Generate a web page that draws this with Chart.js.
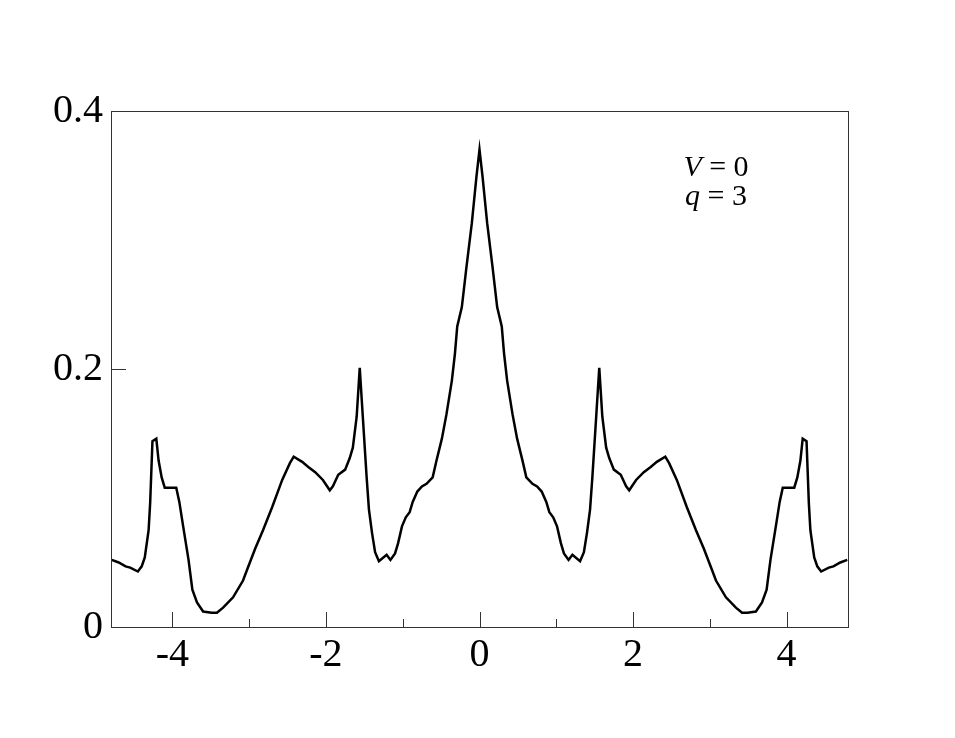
<!DOCTYPE html>
<html>
<head>
<meta charset="utf-8">
<script src="https://cdn.jsdelivr.net/npm/chart.js@4/dist/chart.umd.min.js"></script>
<style>
  html, body { margin: 0; padding: 0; background: #fff; }
  #wrap { width: 955px; height: 738px; position: relative; }
</style>
</head>
<body>
<div id="wrap"><canvas id="chart1"></canvas></div>
<script>
/* ── 데이터 ── */
const xVals = [
  -4.79, -4.70, -4.61, -4.55, -4.45, -4.40, -4.36, -4.31, -4.29, -4.26,
  -4.21, -4.18, -4.14, -4.10, -4.03, -3.95, -3.91, -3.86, -3.79, -3.74,
  -3.68, -3.60, -3.49, -3.42, -3.34, -3.21, -3.08, -3.03, -2.92, -2.82,
  -2.70, -2.57, -2.47, -2.42, -2.31, -2.23, -2.14, -2.04, -1.95, -1.91,
  -1.84, -1.75, -1.69, -1.65, -1.60, -1.56, -1.52, -1.47, -1.44, -1.40,
  -1.36, -1.31, -1.21, -1.16, -1.10, -1.06, -1.01, -0.96, -0.91, -0.87,
  -0.81, -0.75, -0.69, -0.61, -0.56, -0.49, -0.43, -0.36, -0.32, -0.29,
  -0.23, -0.17, -0.10, -0.04, 0.00,
  0.04, 0.10, 0.17, 0.23, 0.29, 0.32, 0.36, 0.43, 0.49, 0.56,
  0.61, 0.69, 0.75, 0.81, 0.87, 0.91, 0.96, 1.01, 1.06, 1.10,
  1.16, 1.21, 1.31, 1.36, 1.40, 1.44, 1.47, 1.52, 1.56, 1.60,
  1.65, 1.69, 1.75, 1.84, 1.91, 1.95, 2.04, 2.14, 2.23, 2.31,
  2.42, 2.47, 2.57, 2.70, 2.82, 2.92, 3.03, 3.08, 3.21, 3.34,
  3.42, 3.49, 3.60, 3.68, 3.74, 3.79, 3.86, 3.91, 3.95, 4.03,
  4.10, 4.14, 4.18, 4.21, 4.26, 4.29, 4.31, 4.36, 4.40, 4.45,
  4.55, 4.61, 4.70, 4.79
];
const yVals = [
  0.052, 0.050, 0.047, 0.046, 0.043, 0.047, 0.054, 0.075, 0.096, 0.144,
  0.146, 0.129, 0.116, 0.108, 0.108, 0.108, 0.097, 0.078, 0.052, 0.029,
  0.019, 0.012, 0.011, 0.011, 0.015, 0.023, 0.036, 0.044, 0.061, 0.075,
  0.093, 0.114, 0.127, 0.132, 0.128, 0.124, 0.120, 0.114, 0.106, 0.109,
  0.118, 0.122, 0.131, 0.139, 0.163, 0.201, 0.163, 0.116, 0.091, 0.073,
  0.058, 0.051, 0.056, 0.052, 0.057, 0.065, 0.078, 0.085, 0.089, 0.097,
  0.105, 0.109, 0.111, 0.116, 0.129, 0.146, 0.165, 0.191, 0.212, 0.233,
  0.248, 0.279, 0.313, 0.349, 0.370,
  0.349, 0.313, 0.279, 0.248, 0.233, 0.212, 0.191, 0.165, 0.146, 0.129,
  0.116, 0.111, 0.109, 0.105, 0.097, 0.089, 0.085, 0.078, 0.065, 0.057,
  0.052, 0.056, 0.051, 0.058, 0.073, 0.091, 0.116, 0.163, 0.201, 0.163,
  0.139, 0.131, 0.122, 0.118, 0.109, 0.106, 0.114, 0.120, 0.124, 0.128,
  0.132, 0.127, 0.114, 0.093, 0.075, 0.061, 0.044, 0.036, 0.023, 0.015,
  0.011, 0.011, 0.012, 0.019, 0.029, 0.052, 0.078, 0.097, 0.108, 0.108,
  0.108, 0.116, 0.129, 0.146, 0.144, 0.096, 0.075, 0.054, 0.047, 0.043,
  0.046, 0.047, 0.050, 0.052
];

/* 눈금 */
const xMajor = [-4, -2, 0, 2, 4];
const xMinor = [-3, -1, 1, 3];
const yMajor = [0, 0.2, 0.4];
const noteLines = [['V', ' = 0'], ['q', ' = 3']];

const FONT = '"Liberation Serif", "DejaVu Serif", serif';
const FRAME = '#333';

/* ── 프레임 + 안쪽 눈금 + 주석 ── */
const framePlugin = {
  id: 'frame',
  afterDraw(chart){
    const { ctx, chartArea: a, scales: { x, y } } = chart;
    ctx.save();
    ctx.strokeStyle = FRAME;
    ctx.lineWidth = 1;
    ctx.strokeRect(a.left + 0.5, a.top + 0.5, a.right - a.left, a.bottom - a.top);

    ctx.beginPath();
    xMajor.forEach(v => {
      const px = Math.round(x.getPixelForValue(v)) + 0.5;
      ctx.moveTo(px, a.bottom); ctx.lineTo(px, a.bottom - 15);
    });
    xMinor.forEach(v => {
      const px = Math.round(x.getPixelForValue(v)) + 0.5;
      ctx.moveTo(px, a.bottom); ctx.lineTo(px, a.bottom - 8);
    });
    yMajor.forEach(v => {
      const py = Math.round(y.getPixelForValue(v)) + 0.5;
      ctx.moveTo(a.left, py); ctx.lineTo(a.left + 15, py);
    });
    ctx.stroke();

    // V = 0 / q = 3
    ctx.fillStyle = '#000';
    ctx.textBaseline = 'alphabetic';
    const cx = 716, base = [176, 205];
    noteLines.forEach((ln, i) => {
      ctx.font = 'italic 30px ' + FONT;
      const w1 = ctx.measureText(ln[0]).width;
      ctx.font = '30px ' + FONT;
      const w2 = ctx.measureText(ln[1]).width;
      let sx = cx - (w1 + w2) / 2;
      ctx.font = 'italic 30px ' + FONT;
      ctx.fillText(ln[0], sx, base[i]);
      ctx.font = '30px ' + FONT;
      ctx.fillText(ln[1], sx + w1, base[i]);
    });
    ctx.restore();
  }
};

new Chart(document.getElementById('chart1'), {
  type: 'scatter',
  data: {
    datasets: [{
      data: xVals.map((v, i) => ({ x: v, y: yVals[i] })),
      showLine: true,
      borderColor: '#000',
      borderWidth: 2.5,
      pointRadius: 0,
      tension: 0
    }]
  },
  options: {
    responsive: true,
    maintainAspectRatio: false,
    animation: false,
    layout: { padding: { left: 0, right: 107, top: 111, bottom: 0 } },
    plugins: { legend: { display: false }, tooltip: { enabled: false } },
    scales: {
      x: {
        type: 'linear', min: -4.8, max: 4.8,
        grid: { display: false, drawTicks: false },
        border: { display: false },
        afterFit(s){ s.height = 111; },
        afterBuildTicks(s){ s.ticks = xMajor.map(v => ({ value: v })); },
        ticks: {
          color: '#000', padding: 4,
          font: { family: FONT, size: 40 },
          callback: v => String(v)
        }
      },
      y: {
        min: 0, max: 0.4,
        grid: { display: false, drawTicks: false },
        border: { display: false },
        afterFit(s){ s.width = 111; },
        afterBuildTicks(s){ s.ticks = yMajor.map(v => ({ value: v })); },
        ticks: {
          color: '#000', padding: 8,
          font: { family: FONT, size: 40 },
          callback: v => String(+v.toFixed(1))
        }
      }
    }
  },
  plugins: [framePlugin]
});
</script>
</body>
</html>
